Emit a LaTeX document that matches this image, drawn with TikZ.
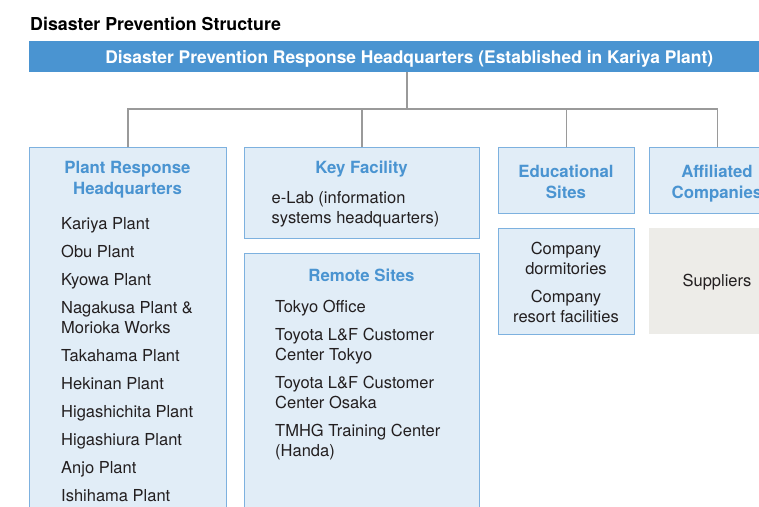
\documentclass[tikz,border=0pt]{standalone}
\usepackage{fontspec}
\setmainfont{TeX Gyre Heros}
\definecolor{hqblue}{HTML}{4A94D1}
\definecolor{boxfill}{HTML}{E1EDF7}
\definecolor{boxline}{HTML}{7DB1DF}
\definecolor{wire}{HTML}{9A9A9A}
\definecolor{ink}{HTML}{231F20}
\definecolor{suppfill}{HTML}{EDECE8}

\begin{document}
\begin{tikzpicture}[x=1pt, y=-1pt,
    box/.style={draw=boxline, fill=boxfill, line width=1.2pt, inner sep=0pt, anchor=north west},
    head/.style={text=hqblue, font=\fontsize{16.8}{21}\selectfont\bfseries, align=center, inner sep=0pt},
    item/.style={text=ink, font=\fontsize{16.5}{20}\selectfont, inner sep=0pt, anchor=north west, align=left},
    link/.style={draw=wire, line width=1.3pt}
]
\useasboundingbox (0,0) rectangle (759,506);
\clip (0,0) rectangle (759,506);

% title
\node[anchor=base west, inner sep=0pt, font=\fontsize{17.8}{20}\selectfont\bfseries] (title) at (30,30) {Disaster Prevention Structure};

% headquarters bar
\node[anchor=north west, fill=hqblue, minimum width=760, minimum height=31, inner sep=0pt,
      text=white, font=\fontsize{17.4}{20}\selectfont\bfseries, text height=13.5pt, text depth=0pt]
      (hq) at (29,41) {Disaster Prevention Response Headquarters (Established in Kariya Plant)};

% boxes
\node[box, minimum width=197, minimum height=380] (plant)  at (29,147)  {};
\node[box, minimum width=235, minimum height=91]  (key)    at (244,147) {};
\node[box, minimum width=235, minimum height=280] (remote) at (244,253) {};
\node[box, minimum width=136, minimum height=66]  (edu)    at (498,147) {};
\node[box, minimum width=136, minimum height=106] (comp)   at (498,228) {};
\node[box, minimum width=136, minimum height=66]  (affil)  at (649,147) {};
\node[anchor=north west, fill=suppfill, minimum width=136, minimum height=106, inner sep=0pt] (supp) at (649,228) {};

% connectors
\coordinate (split) at (407,109);
\draw[link] (split |- hq.south) -- (split);
\draw[link] (plant.north) |- (split) -| (affil.north);
\draw[link] (key.north) -- (key.north |- split);
\draw[link] (edu.north) -- (edu.north |- split);

% headings
\node[head, anchor=north] (planthead)  at (127.5,161) {Plant Response\\Headquarters};
\node[head, anchor=base]  (keyhead)    at (361.5,173) {Key Facility};
\node[head, anchor=base]  (remotehead) at (361.5,281.7) {Remote Sites};
\node[head, anchor=north] (eduhead)    at (566,164.7) {Educational\\Sites};
\node[head, anchor=north] (affilhead)  at (717,164.7) {Affiliated\\Companies};

% lists
\node[item] (plantlist) at (61,217.3) {Kariya Plant\\[8pt]
  Obu Plant\\[8pt]
  Kyowa Plant\\[8pt]
  Nagakusa Plant \&\\Morioka Works\\[8pt]
  Takahama Plant\\[8pt]
  Hekinan Plant\\[8pt]
  Higashichita Plant\\[8pt]
  Higashiura Plant\\[8pt]
  Anjo Plant\\[8pt]
  Ishihama Plant};
\node[item] (keylist) at (271.5,191.3) {e-Lab (information\\systems headquarters)};
\node[item] (remotelist) at (275,299.8) {Tokyo Office\\[8pt]
  Toyota L\&F Customer\\Center Tokyo\\[8pt]
  Toyota L\&F Customer\\Center Osaka\\[8pt]
  TMHG Training Center\\(Handa)};
\node[item, anchor=north, align=center] (complist) at (566,241.5) {Company\\dormitories\\[8pt]
  Company\\resort facilities};
\node[item, anchor=base] (supplist) at (717,286) {Suppliers};

\end{tikzpicture}
\end{document}
